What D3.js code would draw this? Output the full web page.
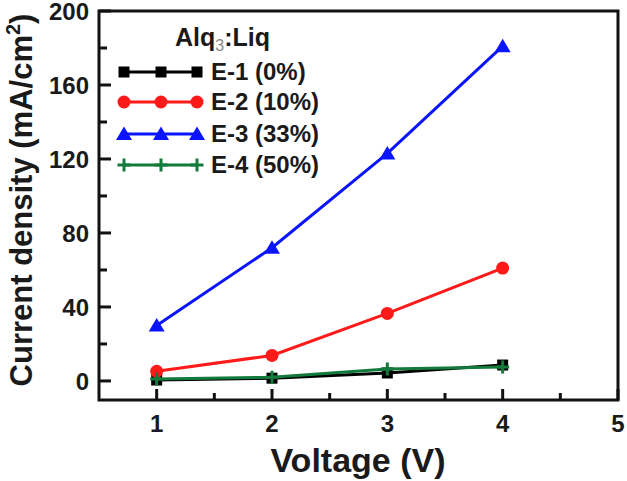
<!DOCTYPE html>
<html>
<head>
<meta charset="utf-8">
<script src="https://cdn.jsdelivr.net/npm/d3@7"></script>
<style>
  body { margin: 0; background: #fff; }
  text { font-family: "Liberation Sans", Arial, sans-serif; font-weight: bold; fill: #1a1a1a; }
</style>
</head>
<body>
<script>
var W = 627, H = 481;

// data
var voltage = [1, 2, 3, 4];
var seriesNames = ["E-1 (0%)", "E-2 (10%)", "E-3 (33%)", "E-4 (50%)"];
var e1 = [0.5, 1.5, 4.3, 8.6];
var e2 = [5.2, 13.8, 36.5, 61];
var e3 = [30, 72, 123, 181];
var e4 = [1, 2, 6.5, 7.6];
var xTicks = [1, 2, 3, 4, 5];
var yTicks = [0, 40, 80, 120, 160, 200];

var colors = ["#000000", "#ff1a1a", "#0a14ff", "#127a3a"];
var shapes = ["square", "circle", "triangle", "plus"];
var allSeries = [e1, e2, e3, e4];

var pL = 99, pR = 618, pT = 11, pB = 400;

var x = d3.scaleLinear().domain([0.5, 5]).range([pL, pR]);
var y = d3.scaleLinear().domain([-10.3, 200]).range([pB, pT]);

var svg = d3.select("body").append("svg")
  .attr("width", W).attr("height", H);

var line = d3.line()
  .x(function (d) { return x(d.v); })
  .y(function (d) { return y(d.j); });

function drawMarker(g, shape, color, cx, cy) {
  if (shape == "square") {
    g.append("rect").attr("x", cx - 5.5).attr("y", cy - 5.5)
      .attr("width", 11).attr("height", 11).attr("fill", color);
  } else if (shape == "circle") {
    g.append("circle").attr("cx", cx).attr("cy", cy).attr("r", 6.5).attr("fill", color);
  } else if (shape == "triangle") {
    g.append("path")
      .attr("d", "M" + cx + "," + (cy - 7.5) + "L" + (cx + 8) + "," + (cy + 6) + "L" + (cx - 8) + "," + (cy + 6) + "Z")
      .attr("fill", color);
  } else {
    g.append("path")
      .attr("d", "M" + (cx - 6.5) + "," + cy + "H" + (cx + 6.5) + "M" + cx + "," + (cy - 6.5) + "V" + (cy + 6.5))
      .attr("stroke", color).attr("stroke-width", 3).attr("fill", "none");
  }
}

// series
var plot = svg.append("g");
allSeries.forEach(function (vals, i) {
  var pts = voltage.map(function (v, k) { return { v: v, j: vals[k] }; });
  var g = plot.append("g");
  g.append("path").datum(pts)
    .attr("d", line)
    .attr("fill", "none")
    .attr("stroke", colors[i])
    .attr("stroke-width", 3);
  pts.forEach(function (p) {
    drawMarker(g, shapes[i], colors[i], x(p.v), y(p.j));
  });
});

// frame
svg.append("rect")
  .attr("x", pL).attr("y", pT)
  .attr("width", pR - pL).attr("height", pB - pT)
  .attr("fill", "none").attr("stroke", "#111").attr("stroke-width", 3);

// x ticks, pointing in
var xMinor = [1.5, 2.5, 3.5, 4.5];
xTicks.forEach(function (t) {
  svg.append("line").attr("x1", x(t)).attr("x2", x(t))
    .attr("y1", pB).attr("y2", pB - 11)
    .attr("stroke", "#111").attr("stroke-width", 3);
  svg.append("text").attr("x", x(t)).attr("y", pB + 32)
    .attr("text-anchor", "middle").attr("font-size", 24).text(t);
});
xMinor.forEach(function (t) {
  svg.append("line").attr("x1", x(t)).attr("x2", x(t))
    .attr("y1", pB).attr("y2", pB - 7)
    .attr("stroke", "#111").attr("stroke-width", 3);
});

// y ticks, pointing in
var yMinor = [20, 60, 100, 140, 180];
yTicks.forEach(function (t) {
  svg.append("line").attr("x1", pL).attr("x2", pL + 12)
    .attr("y1", y(t)).attr("y2", y(t))
    .attr("stroke", "#111").attr("stroke-width", 3);
  svg.append("text").attr("x", pL - 10).attr("y", y(t) + 9)
    .attr("text-anchor", "end").attr("font-size", 24).text(t);
});
yMinor.forEach(function (t) {
  svg.append("line").attr("x1", pL).attr("x2", pL + 8)
    .attr("y1", y(t)).attr("y2", y(t))
    .attr("stroke", "#111").attr("stroke-width", 3);
});

// axis titles
svg.append("text").attr("x", 358).attr("y", 472)
  .attr("text-anchor", "middle").attr("font-size", 34).text("Voltage (V)");

var yl = svg.append("text")
  .attr("transform", "translate(32,200) rotate(-90)")
  .attr("text-anchor", "middle").attr("font-size", 31);
yl.append("tspan").text("Current density (mA/cm");
yl.append("tspan").attr("font-size", 20).attr("dy", -12).text("2");
yl.append("tspan").attr("dy", 12).text(")");

// legend
var lt = svg.append("text").attr("x", 175).attr("y", 46).attr("font-size", 25);
lt.append("tspan").text("Alq");
lt.append("tspan").attr("font-size", 16).attr("dy", 5).attr("fill", "#888").attr("font-weight", "normal").text("3");
lt.append("tspan").attr("dy", -5).text(":Liq");

var legY = [72, 102, 134, 165];
seriesNames.forEach(function (name, i) {
  var g = svg.append("g");
  var yy = legY[i];
  g.append("line").attr("x1", 124).attr("x2", 197).attr("y1", yy).attr("y2", yy)
    .attr("stroke", colors[i]).attr("stroke-width", 3);
  [124, 161, 197].forEach(function (mx) { drawMarker(g, shapes[i], colors[i], mx, yy); });
  g.append("text").attr("x", 211).attr("y", yy + 8).attr("font-size", 24).text(name);
});
</script>
</body>
</html>
